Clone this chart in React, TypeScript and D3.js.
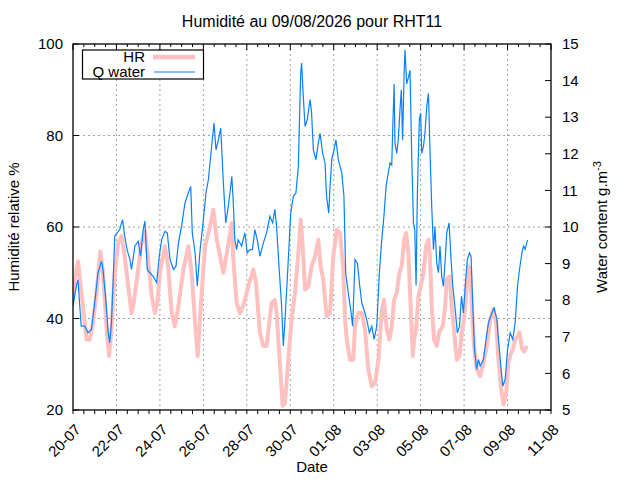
import React from 'react';
import * as d3 from 'd3';

// days since 20-07-2026 00:00 and relative humidity (%)
const hrDays = [
  0.0, 0.08, 0.23, 0.46, 0.62, 0.77, 0.92, 1.08, 1.26, 1.38, 1.54, 1.66, 1.77, 1.92, 2.08, 2.23, 2.38, 2.54, 2.69, 2.77,
  2.92, 3.15, 3.31, 3.46, 3.62, 3.77, 3.88, 4.0, 4.23, 4.38, 4.54, 4.69, 4.85, 5.08, 5.31, 5.46, 5.62, 5.74, 5.88, 6.08,
  6.31, 6.46, 6.62, 6.77, 6.92, 7.08, 7.31, 7.37, 7.45, 7.53, 7.68, 7.83, 7.96, 8.06, 8.3, 8.42, 8.53, 8.6, 8.76, 8.91,
  9.03, 9.14, 9.29, 9.37, 9.52, 9.65, 9.75, 9.91, 10.06, 10.22, 10.37, 10.48, 10.57, 10.68, 10.83, 10.98, 11.14, 11.29, 11.4, 11.52,
  11.67, 11.83, 11.98, 12.14, 12.29, 12.44, 12.52, 12.6, 12.75, 12.9, 12.98, 13.13, 13.29, 13.44, 13.59, 13.75, 13.9, 14.06, 14.21, 14.31,
  14.44, 14.56, 14.67, 14.78, 14.9, 15.02, 15.13, 15.24, 15.33, 15.44, 15.54, 15.64, 15.7, 15.79, 15.9, 16.0, 16.13, 16.25, 16.36, 16.43,
  16.51, 16.62, 16.74, 16.86, 17.02, 17.13, 17.2, 17.33, 17.43, 17.54, 17.66, 17.79, 17.89, 18.0, 18.09, 18.2, 18.28, 18.37, 18.46, 18.58,
  18.74, 18.89, 19.05, 19.2, 19.35, 19.48, 19.58, 19.69, 19.81, 19.94, 20.04, 20.15, 20.24, 20.35, 20.46, 20.55, 20.66, 20.77, 20.89,
];
const hrValues = [
  44, 48.5, 52.5, 42.7, 35.4, 35.4, 39, 45.6, 54.7, 50, 38.3, 31.8, 37.6, 50, 56.5, 58, 53.6, 47, 41.2, 42.7,
  47.8, 56.5, 59, 52.9, 44.9, 41.2, 43.4, 50, 55.8, 51.4, 41.2, 38.3, 42.7, 50.7, 55.8, 50, 39, 31.8, 42.7, 55.8,
  60.2, 63.8, 57.2, 53.6, 50, 54.3, 60.9, 53.6, 48.5, 43.4, 41.2, 42.7, 44.9, 47, 50.7, 48, 41.2, 36.9, 34, 34,
  39, 43.4, 44, 41.2, 30.3, 20.9, 21.5, 31, 39.8, 45.6, 54.3, 61.6, 56, 46.3, 47, 51.4, 53.6, 57.2, 51.4, 48.5,
  40.5, 41.2, 53.6, 59.4, 58.7, 50.7, 39.8, 35.4, 31, 31, 38.3, 41.2, 41.2, 37.6, 28.9, 25.2, 25.9, 31, 41.5, 44.1,
  37.6, 35.4, 38.3, 44.1, 45.6, 50, 51.4, 57.2, 58.7, 54, 42.7, 31.8, 35.4, 37.6, 44.9, 47, 50, 55.8, 57.2, 53.6,
  42.7, 35.4, 34, 37.2, 38.3, 42.7, 48.5, 49.2, 42.7, 37.2, 31, 31.8, 36.9, 39.8, 44.9, 51.4, 50.7, 41.2, 34, 28.9,
  27.4, 30.3, 34, 39.8, 42, 39, 31, 25.2, 21.2, 23.8, 30.3, 32.4, 33.1, 35.4, 36, 37, 33.5, 32.8, 34,
];

// days since 20-07-2026 00:00 and water content (g.m-3)
const waterDays = [
  0.0, 0.15, 0.23, 0.31, 0.38, 0.54, 0.69, 0.85, 1.0, 1.15, 1.31, 1.38, 1.51, 1.62, 1.69, 1.77, 1.85, 1.92, 2.03, 2.15,
  2.28, 2.38, 2.49, 2.62, 2.69, 2.85, 3.0, 3.11, 3.23, 3.31, 3.42, 3.54, 3.69, 3.85, 3.97, 4.08, 4.23, 4.34, 4.46, 4.62,
  4.74, 4.85, 5.0, 5.15, 5.31, 5.42, 5.49, 5.62, 5.72, 5.85, 6.0, 6.12, 6.23, 6.38, 6.49, 6.58, 6.69, 6.8, 6.92, 7.03,
  7.15, 7.31, 7.37, 7.45, 7.53, 7.6, 7.76, 7.91, 8.02, 8.14, 8.26, 8.37, 8.48, 8.6, 8.76, 8.91, 9.06, 9.19, 9.29, 9.37,
  9.49, 9.6, 9.68, 9.75, 9.91, 10.02, 10.14, 10.26, 10.37, 10.42, 10.48, 10.52, 10.6, 10.68, 10.78, 10.91, 10.98, 11.06, 11.18, 11.29,
  11.37, 11.49, 11.6, 11.67, 11.77, 11.83, 11.91, 12.01, 12.1, 12.21, 12.37, 12.47, 12.55, 12.67, 12.78, 12.87, 12.98, 13.09, 13.18, 13.29,
  13.44, 13.55, 13.64, 13.75, 13.86, 13.98, 14.1, 14.21, 14.31, 14.41, 14.51, 14.59, 14.67, 14.71, 14.78, 14.82, 14.9, 14.97, 15.05, 15.11,
  15.17, 15.24, 15.28, 15.36, 15.44, 15.51, 15.59, 15.67, 15.73, 15.79, 15.85, 15.94, 16.0, 16.05, 16.13, 16.2, 16.28, 16.36, 16.43, 16.51,
  16.59, 16.66, 16.74, 16.82, 16.89, 16.97, 17.05, 17.13, 17.2, 17.31, 17.39, 17.48, 17.59, 17.69, 17.79, 17.88, 17.97, 18.05, 18.15, 18.25,
  18.32, 18.4, 18.48, 18.58, 18.66, 18.74, 18.89, 19.01, 19.12, 19.28, 19.38, 19.51, 19.58, 19.69, 19.78, 19.89, 20.0, 20.12, 20.24, 20.35,
  20.46, 20.55, 20.66, 20.74, 20.81, 20.92,
];
const waterValues = [
  7.84, 8.38, 8.56, 7.84, 7.29, 7.29, 7.11, 7.2, 7.93, 8.75, 9.06, 8.84, 8.01, 7.11, 6.84, 7.38, 8.56, 9.75, 9.84, 9.93,
  10.2, 9.75, 9.38, 9.11, 8.84, 9.48, 9.61, 9.2, 9.93, 10.16, 8.84, 8.75, 8.65, 8.48, 9.2, 9.65, 9.88, 9.84, 9.13, 8.84,
  8.93, 9.56, 10.03, 10.65, 10.93, 11.11, 9.84, 9.29, 8.38, 9.38, 10.2, 10.93, 11.29, 12.2, 12.84, 12.11, 12.38, 12.7, 11.2, 10.11,
  10.56, 11.38, 10.75, 9.65, 9.38, 9.65, 9.48, 9.84, 9.29, 9.38, 9.38, 9.93, 9.65, 9.2, 9.56, 9.84, 10.29, 10.11, 10.48, 10.01,
  8.84, 7.84, 6.75, 7.38, 9.11, 10.38, 10.84, 10.93, 11.65, 12.84, 14.2, 14.48, 13.56, 12.75, 12.93, 13.48, 13.13, 12.11, 11.84, 12.29,
  12.56, 12.01, 11.75, 10.84, 10.38, 11.11, 11.84, 12.11, 12.38, 11.84, 11.48, 10.84, 8.75, 8.2, 7.75, 7.29, 9.11, 9.01, 8.48, 7.93,
  7.65, 7.38, 7.11, 7.29, 6.93, 7.29, 8.75, 9.65, 10.29, 11.11, 11.48, 11.75, 11.69, 12.56, 13.91, 12.29, 12.01, 12.38, 13.2, 13.75,
  12.38, 14.2, 14.84, 13.91, 14.09, 14.28, 11.93, 10.11, 9.93, 8.4, 10.93, 12.93, 13.11, 12.01, 12.2, 12.56, 13.29, 13.65, 12.11, 10.56,
  9.38, 10.01, 9.01, 8.75, 9.48, 8.65, 8.38, 9.11, 9.84, 10.11, 9.2, 8.38, 7.75, 7.11, 7.29, 8.11, 7.65, 8.38, 9.11, 9.29,
  9.2, 7.84, 6.65, 6.11, 6.38, 6.2, 6.38, 6.93, 7.38, 7.65, 7.79, 7.48, 6.93, 6.2, 5.65, 5.84, 6.65, 7.11, 6.93, 7.38,
  8.38, 8.84, 9.29, 9.48, 9.39, 9.65,
];

const xTickLabels = ['20-07', '22-07', '24-07', '26-07', '28-07', '30-07', '01-08', '03-08', '05-08', '07-08', '09-08', '11-08'];
const yTicks = [20, 40, 60, 80, 100];
const yGrid = [40, 60, 80];
const y2Ticks = [5, 6, 7, 8, 9, 10, 11, 12, 13, 14, 15];

const start = new Date(2026, 6, 20);
const dayMs = 86400000;
const toDate = (t: number) => new Date(start.getTime() + t * dayMs);

const font = '"Liberation Sans", Arial, sans-serif';
const fs = 15;

export default function App() {
  const width = 640;
  const height = 480;
  const left = 73, right = 551, top = 44, bottom = 410;

  const x = d3.scaleTime().domain([start, toDate(22)]).range([left, right]);
  const y = d3.scaleLinear().domain([20, 100]).range([bottom, top]);
  const y2 = d3.scaleLinear().domain([5, 15]).range([bottom, top]);

  const majors = xTickLabels.map((_, i) => toDate(i * 2));
  const minors = d3.range(0, 22.01, 0.5).map(toDate);

  const hrLine = d3.line<number>()
    .x((_, i) => x(toDate(hrDays[i])))
    .y(d => y(d));
  const waterLine = d3.line<number>()
    .x((_, i) => x(toDate(waterDays[i])))
    .y(d => y2(d));

  const grid = { stroke: '#a0a0a0', strokeWidth: 1, strokeDasharray: '2,3' };

  return (
    <svg width={width} height={height} style={{ position: 'absolute', left: 0, top: 0, background: '#fff' }}
      fontFamily={font} fontSize={fs}>
      <defs>
        <clipPath id="plot">
          <rect x={left} y={top} width={right - left} height={bottom - top} />
        </clipPath>
      </defs>

      {/* grid */}
      {majors.slice(1, -1).map((d, i) => (
        <line key={'gx' + i} x1={x(d)} x2={x(d)} y1={top} y2={bottom} {...grid} />
      ))}
      {yGrid.map(v => (
        <line key={'gy' + v} x1={left} x2={right} y1={y(v)} y2={y(v)} {...grid} />
      ))}

      {/* series */}
      <g clipPath="url(#plot)">
        <path d={hrLine(hrValues) || ''} fill="none" stroke="#ffc0c0" strokeWidth={4} strokeLinejoin="round" />
        <path d={waterLine(waterValues) || ''} fill="none" stroke="#0a80ff" strokeWidth={1.2} />
      </g>

      {/* frame */}
      <rect x={left} y={top} width={right - left} height={bottom - top} fill="none" stroke="#000" strokeWidth={1.3} />

      {/* x ticks */}
      {minors.map((d, i) => (
        <g key={'mx' + i}>
          <line x1={x(d)} x2={x(d)} y1={bottom} y2={bottom + 4} stroke="#000" />
          <line x1={x(d)} x2={x(d)} y1={top} y2={top + (i % 4 === 0 ? 6 : 3)} stroke="#000" />
        </g>
      ))}
      {majors.map((d, i) => (
        <text key={'lx' + i} transform={`translate(${x(d) + 5},${bottom + 17}) rotate(-45)`}
          textAnchor="end" dy="0.35em" fill="#000">{xTickLabels[i]}</text>
      ))}

      {/* y ticks */}
      {yTicks.map(v => (
        <g key={'ty' + v}>
          <line x1={left} x2={left + 6} y1={y(v)} y2={y(v)} stroke="#000" />
          <text x={left - 10} y={y(v)} dy="0.35em" textAnchor="end">{v}</text>
        </g>
      ))}
      {y2Ticks.map(v => (
        <g key={'ty2' + v}>
          <line x1={right - 6} x2={right} y1={y2(v)} y2={y2(v)} stroke="#000" />
          <text x={right + 11} y={y2(v)} dy="0.35em" textAnchor="start">{v}</text>
        </g>
      ))}

      {/* titles */}
      <text x={(left + right) / 2} y={27} textAnchor="middle" fontSize={16}>Humidité au 09/08/2026 pour RHT11</text>
      <text x={(left + right) / 2} y={472} textAnchor="middle">Date</text>
      <text transform={`translate(18.5,${(top + bottom) / 2}) rotate(-90)`} textAnchor="middle">Humidité relative %</text>
      <text transform={`translate(607,${(top + bottom) / 2}) rotate(-90)`} textAnchor="middle">
        Water content g.m<tspan dy={-6} fontSize={11}>-3</tspan>
      </text>

      {/* legend */}
      <rect x={82.5} y={50} width={121} height={29} fill="#fff" stroke="#000" strokeWidth={1.2} />
      <text x={145} y={61.5} textAnchor="end">HR</text>
      <line x1={153} x2={195} y1={57} y2={57} stroke="#ffc0c0" strokeWidth={4.5} />
      <text x={145} y={76.5} textAnchor="end">Q water</text>
      <line x1={154} x2={195} y1={72} y2={72} stroke="#0a80ff" strokeWidth={1.2} />
    </svg>
  );
}
